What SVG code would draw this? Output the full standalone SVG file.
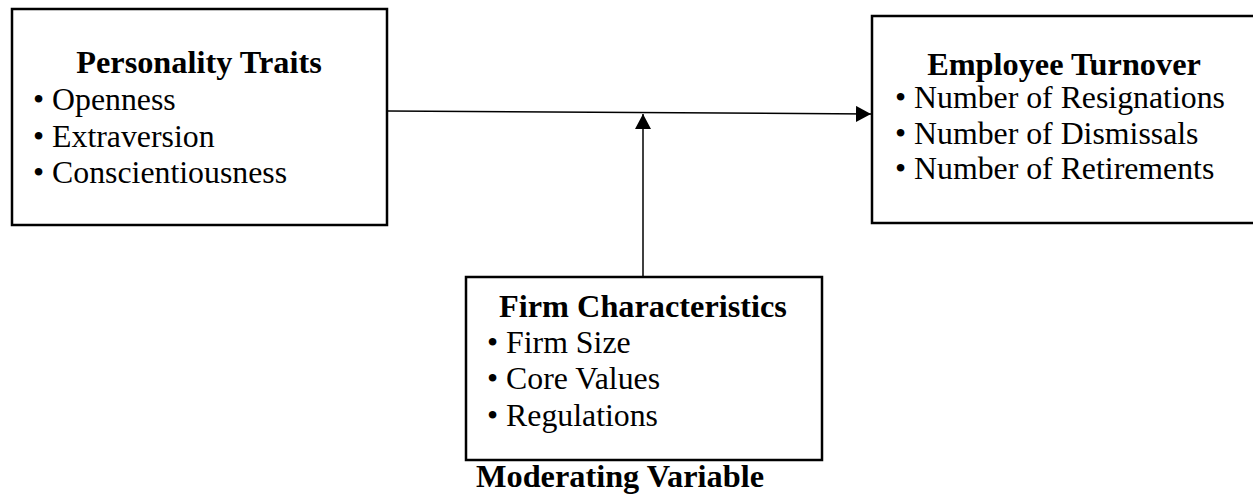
<svg xmlns="http://www.w3.org/2000/svg" width="1253" height="504" viewBox="0 0 1253 504">
<style>
.box{fill:#fff;stroke:#000;stroke-width:2.5}
.h{font-family:"Liberation Serif","Times New Roman",serif;font-weight:bold;font-size:32.3px;fill:#000}
.t{font-family:"Liberation Serif","Times New Roman",serif;font-size:31.8px;fill:#000}
.c{stroke:#000;stroke-width:1.5;fill:none}
</style>
<defs>
<marker id="arr" markerUnits="userSpaceOnUse" markerWidth="16" markerHeight="16" refX="15" refY="8" orient="auto">
<path d="M0,0 L15,8 L0,16 Z" fill="#000"/>
</marker>
</defs>
<rect width="1253" height="504" fill="#fff"/>
<g id="personality">
<rect class="box" x="12" y="9" width="375" height="216"/>
<text class="h" x="199" y="73" text-anchor="middle">Personality Traits</text>
<text class="t" x="33" y="110">• Openness</text>
<text class="t" x="33" y="147">• Extraversion</text>
<text class="t" x="33" y="183">• Conscientiousness</text>
</g>
<g id="turnover">
<rect class="box" x="872" y="16" width="400" height="207"/>
<text class="h" x="1064" y="75" text-anchor="middle">Employee Turnover</text>
<text class="t" x="895" y="108">• Number of Resignations</text>
<text class="t" x="895" y="144">• Number of Dismissals</text>
<text class="t" x="895" y="179">• Number of Retirements</text>
</g>
<g id="firm">
<rect class="box" x="466" y="277" width="356" height="183"/>
<text class="h" x="643" y="317" text-anchor="middle">Firm Characteristics</text>
<text class="t" x="487" y="353">• Firm Size</text>
<text class="t" x="487" y="389">• Core Values</text>
<text class="t" x="487" y="426">• Regulations</text>
<text class="h" x="620" y="487" text-anchor="middle">Moderating Variable</text>
</g>
<g id="connectors">
<line class="c" x1="388" y1="111" x2="871" y2="114" marker-end="url(#arr)"/>
<line class="c" x1="643" y1="277" x2="643" y2="114" marker-end="url(#arr)"/>
</g>
</svg>
